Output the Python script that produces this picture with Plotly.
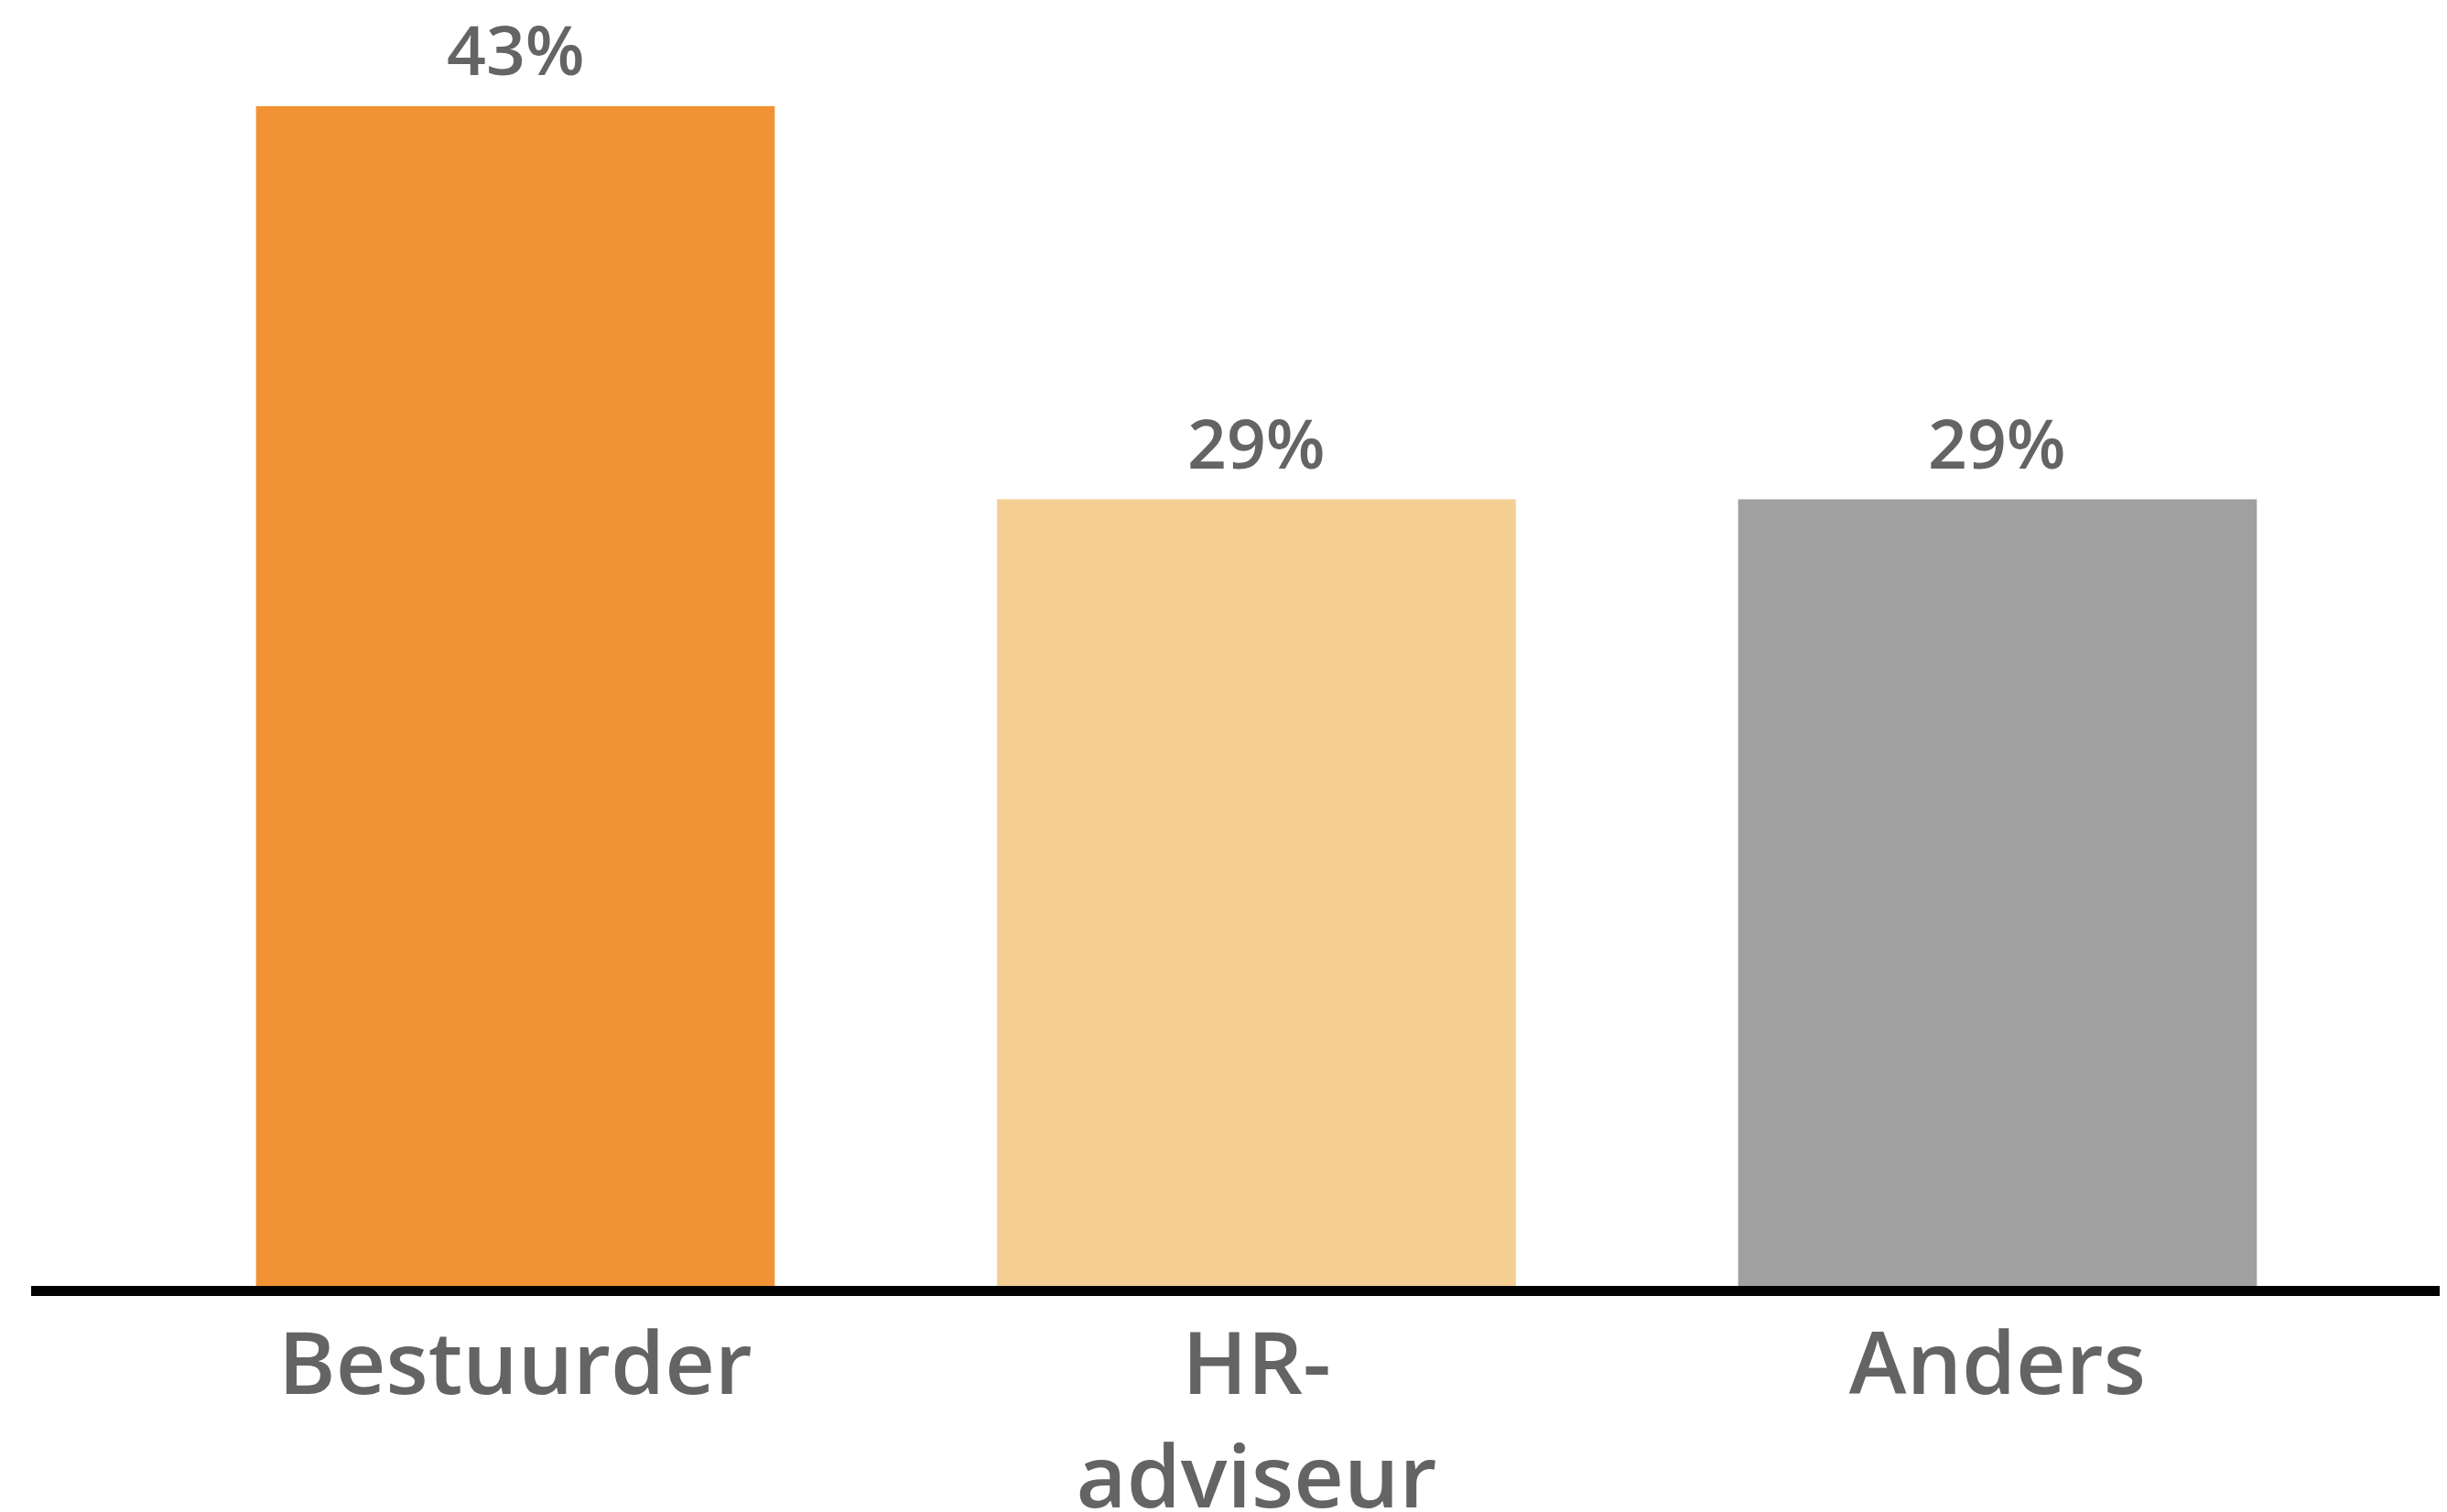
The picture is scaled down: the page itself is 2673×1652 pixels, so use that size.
import plotly.graph_objects as go

categories = ["Bestuurder", "HR-<br>adviseur", "Anders"]
values = [42.9, 28.6, 28.6]
labels = ["43%", "29%", "29%"]
colors = ["#F19334", "#F4CE93", "#A0A0A0"]

TEXT = "#646464"
FONT = "Open Sans"

fig = go.Figure(
    go.Bar(
        x=categories,
        y=values,
        marker=dict(color=colors, line=dict(width=0)),
        cliponaxis=False,
    )
)

for c, v, t in zip(categories, values, labels):
    fig.add_annotation(
        x=c, y=v, text=t, showarrow=False,
        yanchor="bottom", yshift=10,
        font=dict(size=75, color=TEXT, family=FONT, weight=600),
    )

fig.update_layout(
    width=2673,
    height=1652,
    margin=dict(l=26, r=0, t=0, b=255, autoexpand=False),
    paper_bgcolor="white",
    plot_bgcolor="white",
    bargap=0.30,
    showlegend=False,
    font=dict(family=FONT, color=TEXT),
)
fig.update_xaxes(
    range=[-0.6535, 2.6165],
    automargin=False,
    showline=True,
    linecolor="black",
    linewidth=11,
    showgrid=False,
    ticks="",
    ticklabelstandoff=-7,
    tickfont=dict(size=95, color=TEXT, family=FONT, weight=600),
    zeroline=False,
)
fig.update_yaxes(
    range=[0, 46.49],
    visible=False,
    showgrid=False,
    zeroline=False,
)

fig.write_html("out.html")
